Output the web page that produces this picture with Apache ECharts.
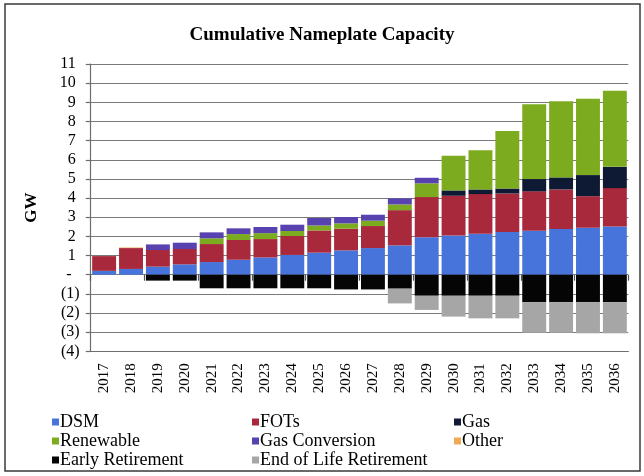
<!DOCTYPE html>
<html>
<head>
<meta charset="utf-8">
<script src="https://cdn.jsdelivr.net/npm/echarts@6/dist/echarts.min.js"></script>
<style>
  html, body { margin: 0; padding: 0; background: #ffffff; }
  #chart { width: 644px; height: 476px; }
</style>
</head>
<body>
<div id="chart"></div>
<script>
// Cumulative nameplate capacity by resource type (GW)
const years = ['2017','2018','2019','2020','2021','2022','2023','2024','2025','2026',
               '2027','2028','2029','2030','2031','2032','2033','2034','2035','2036'];

const dsm       = [0.20,0.30,0.42,0.54,0.66,0.78,0.90,1.03,1.15,1.27,1.39,1.53,1.95,2.05,2.14,2.23,2.30,2.38,2.45,2.52];
const fots      = [0.77,1.09,0.87,0.80,0.94,1.03,0.96,0.99,1.16,1.13,1.15,1.84,2.10,2.07,2.07,2.01,2.05,2.07,1.65,2.00];
const gas       = [0,0,0,0,0,0,0,0,0,0,0,0,0,0.28,0.24,0.26,0.64,0.63,1.10,1.11];
const renewable = [0,0,0,0,0.30,0.31,0.31,0.26,0.26,0.28,0.28,0.30,0.72,1.81,2.05,3.00,3.91,3.98,3.98,3.97];
const gasConv   = [0,0,0.29,0.33,0.31,0.30,0.32,0.33,0.39,0.33,0.31,0.31,0.29,0,0,0,0,0,0,0];
const other     = [0,0.03,0,0,0,0,0,0,0,0,0,0,0,0,0,0,0,0,0,0];
const earlyRet  = [0,0,-0.31,-0.31,-0.71,-0.71,-0.71,-0.71,-0.71,-0.77,-0.77,-0.73,-1.10,-1.10,-1.10,-1.10,-1.44,-1.44,-1.44,-1.44];
const eolRet    = [0,0,0,0,0,0,0,0,0,0,0,-0.77,-0.74,-1.09,-1.18,-1.18,-1.59,-1.59,-1.62,-1.62];

const yMin = -4, yMax = 11, yStep = 1;

const serif = 'Liberation Serif';
const colors = {
  'DSM': '#4674da',
  'FOTs': '#a8283c',
  'Gas': '#0e1a34',
  'Renewable': '#7dab20',
  'Gas Conversion': '#5742b0',
  'Other': '#eeaa55',
  'Early Retirement': '#050505',
  'End of Life Retirement': '#a6a6a6'
};

function bar(name, data) {
  return {
    name: name,
    type: 'bar',
    stack: 'capacity',
    xAxisIndex: 0,
    data: data,
    barCategoryGap: '11%',
    itemStyle: { color: colors[name] },
    emphasis: { disabled: true }
  };
}

function yLabel(v) {
  if (v === 0) return '-  ';
  if (v < 0) return '(' + (-v) + ')';
  return v + ' ';
}

const legendText = { fontFamily: serif, fontSize: 18, color: '#000', lineHeight: 18, padding: [0, 0, 0, -4] };
function legendCol(left, names) {
  return {
    orient: 'vertical',
    left: left,
    top: 408,
    itemWidth: 7,
    itemHeight: 7,
    itemGap: 1,
    icon: 'rect',
    selectedMode: false,
    textStyle: legendText,
    data: names
  };
}

const chart = echarts.init(document.getElementById('chart'), null, { renderer: 'canvas' });
chart.setOption({
  animation: false,
  backgroundColor: '#ffffff',
  title: {
    text: 'Cumulative Nameplate Capacity',
    left: 'center',
    top: 21,
    textStyle: { fontFamily: serif, fontSize: 19, fontWeight: 'bold', color: '#000' }
  },
  legend: [
    legendCol(47, ['DSM', 'Renewable', 'Early Retirement']),
    legendCol(247, ['FOTs', 'Gas Conversion', 'End of Life Retirement']),
    legendCol(449, ['Gas', 'Other'])
  ],
  grid: { left: 90.7, right: 15.7, top: 64, bottom: 124.7, containLabel: false },
  xAxis: [
    {
      type: 'category',
      data: years,
      position: 'bottom',
      axisLine: { onZero: false, lineStyle: { color: '#6e6e6e', width: 1.2 } },
      axisTick: { show: false },
      axisLabel: { rotate: 90, margin: 12, fontFamily: serif, fontSize: 15, color: '#000' },
      splitLine: { show: false }
    },
    {
      type: 'category',
      data: years,
      position: 'top',
      axisLine: { show: false, onZero: true },
      axisTick: { show: true, inside: true, length: 6, lineStyle: { color: '#555', width: 1.2 } },
      axisLabel: { show: false },
      splitLine: { show: false }
    }
  ],
  yAxis: {
    type: 'value',
    min: yMin,
    max: yMax,
    interval: yStep,
    name: 'GW',
    nameLocation: 'middle',
    nameRotate: 90,
    nameGap: 51,
    nameTextStyle: { fontFamily: serif, fontSize: 17, fontWeight: 'bold', color: '#000' },
    axisLine: { show: true, lineStyle: { color: '#6e6e6e', width: 1.2 } },
    axisTick: { show: true, length: 5, lineStyle: { color: '#6e6e6e', width: 1.2 } },
    axisLabel: { formatter: yLabel, margin: 11, fontFamily: serif, fontSize: 16, color: '#000' },
    splitLine: { show: true, lineStyle: { color: '#7a7a7a', width: 1.2 } }
  },
  graphic: [{
    type: 'rect',
    shape: { x: 5, y: 4, width: 635, height: 467 },
    style: { fill: null, stroke: '#3a3a3a', lineWidth: 1.5 },
    silent: true,
    z: 100
  }],
  series: [
    bar('DSM', dsm),
    bar('FOTs', fots),
    bar('Gas', gas),
    bar('Renewable', renewable),
    bar('Gas Conversion', gasConv),
    bar('Other', other),
    bar('Early Retirement', earlyRet),
    bar('End of Life Retirement', eolRet)
  ]
});
</script>
</body>
</html>
